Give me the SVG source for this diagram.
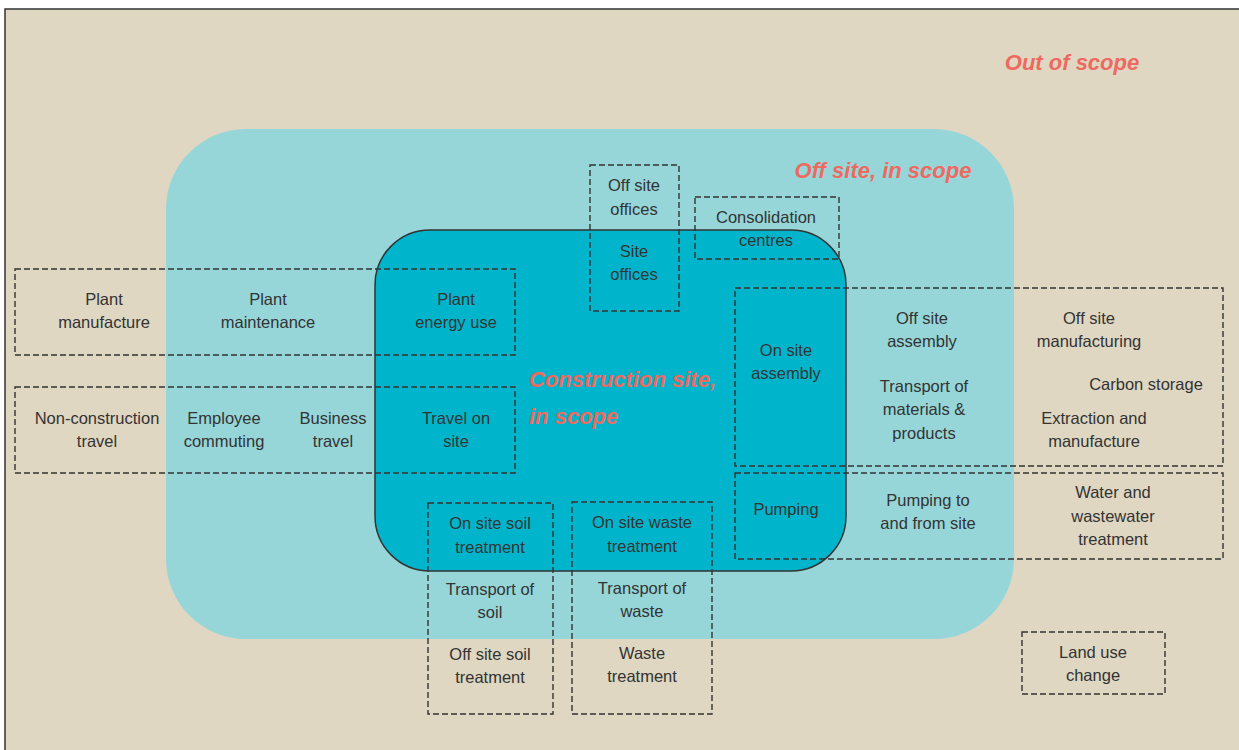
<svg xmlns="http://www.w3.org/2000/svg" width="1239" height="750" viewBox="0 0 1239 750">
<style>
text{font-family:"Liberation Sans",Arial,sans-serif;font-size:16.5px;fill:#333333;text-anchor:middle}
.scope{font-weight:bold;font-style:italic;font-size:22px;fill:#EE6A60}
.box{fill:none;stroke:#333333;stroke-width:1.4;stroke-dasharray:6 3}
</style>
<rect x="0" y="0" width="1239" height="750" fill="#ffffff"/>
<g id="out-of-scope">
<rect x="5" y="9" width="1260" height="760" fill="#DFD7C2" stroke="#333333" stroke-width="1.5"/>
<text class="scope" x="1072" y="70">Out of scope</text>
</g>
<g id="off-site">
<rect x="166" y="129" width="848" height="510" rx="80" ry="80" fill="#96D6D9"/>
<text class="scope" x="883" y="178">Off site, in scope</text>
</g>
<g id="construction-site">
<rect x="375" y="230" width="471" height="341" rx="55" ry="55" fill="#00B5CB" stroke="#333333" stroke-width="1.5"/>
<text class="scope" x="529" y="387" style="text-anchor:start">Construction site,</text>
<text class="scope" x="529" y="424" style="text-anchor:start">in scope</text>
</g>
<g id="connectors"></g>
<g id="offices">
<rect class="box" x="590" y="165" width="89" height="146"/>
<text x="634" y="191">Off site</text><text x="634" y="215">offices</text>
<text x="634" y="257">Site</text><text x="634" y="280">offices</text>
</g>
<g id="consolidation">
<rect class="box" x="695" y="197" width="144" height="62"/>
<text x="766" y="223">Consolidation</text><text x="766" y="246">centres</text>
</g>
<g id="plant">
<rect class="box" x="15" y="269" width="500" height="86"/>
<text x="104" y="305">Plant</text><text x="104" y="328">manufacture</text>
<text x="268" y="305">Plant</text><text x="268" y="328">maintenance</text>
<text x="456" y="305">Plant</text><text x="456" y="328">energy use</text>
</g>
<g id="travel">
<rect class="box" x="15" y="387" width="500" height="86"/>
<text x="97" y="424">Non-construction</text><text x="97" y="447">travel</text>
<text x="224" y="424">Employee</text><text x="224" y="447">commuting</text>
<text x="333" y="424">Business</text><text x="333" y="447">travel</text>
<text x="456" y="424">Travel on</text><text x="456" y="447">site</text>
</g>
<g id="materials">
<rect class="box" x="735" y="288" width="488" height="178"/>
<text x="786" y="356">On site</text><text x="786" y="379">assembly</text>
<text x="922" y="324">Off site</text><text x="922" y="347">assembly</text>
<text x="924" y="392">Transport of</text><text x="924" y="415">materials &amp;</text><text x="924" y="439">products</text>
<text x="1089" y="324">Off site</text><text x="1089" y="347">manufacturing</text>
<text x="1146" y="390">Carbon storage</text>
<text x="1094" y="424">Extraction and</text><text x="1094" y="447">manufacture</text>
</g>
<g id="pumping">
<rect class="box" x="735" y="473" width="488" height="86"/>
<text x="786" y="515">Pumping</text>
<text x="928" y="506">Pumping to</text><text x="928" y="529">and from site</text>
<text x="1113" y="498">Water and</text><text x="1113" y="522">wastewater</text><text x="1113" y="545">treatment</text>
</g>
<g id="soil">
<rect class="box" x="428" y="503" width="125" height="211"/>
<text x="490" y="529">On site soil</text><text x="490" y="553">treatment</text>
<text x="490" y="595">Transport of</text><text x="490" y="618">soil</text>
<text x="490" y="660">Off site soil</text><text x="490" y="683">treatment</text>
</g>
<g id="waste">
<rect class="box" x="572" y="502" width="140" height="212"/>
<text x="642" y="528">On site waste</text><text x="642" y="552">treatment</text>
<text x="642" y="594">Transport of</text><text x="642" y="617">waste</text>
<text x="642" y="659">Waste</text><text x="642" y="682">treatment</text>
</g>
<g id="land-use">
<rect class="box" x="1022" y="632" width="143" height="62"/>
<text x="1093" y="658">Land use</text><text x="1093" y="681">change</text>
</g>
</svg>
